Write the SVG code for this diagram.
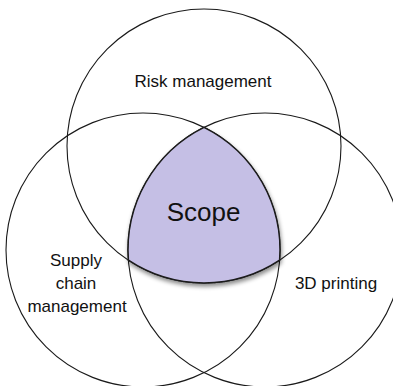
<svg xmlns="http://www.w3.org/2000/svg" width="393" height="386" viewBox="0 0 393 386">
  <style>
    .ring { fill: none; stroke: #1a1a1a; stroke-width: 1.1; }
    .lbl { font-family: "Liberation Sans", Arial, sans-serif; font-size: 17px; fill: #111; text-anchor: middle; }
    .scope { fill: #C5BFE5; stroke: #1a1a1a; stroke-width: 1.5; filter: url(#shadow); }
    .big { font-family: "Liberation Sans", Arial, sans-serif; font-size: 26px; fill: #111; text-anchor: middle; }
  </style>
  <defs>
    <filter id="shadow" x="-20%" y="-20%" width="140%" height="140%">
      <feDropShadow dx="1" dy="3" stdDeviation="2" flood-color="#000" flood-opacity="0.45"/>
    </filter>
  </defs>
  <rect width="393" height="386" fill="#fff"/>
  <g id="risk-management">
    <circle class="ring" cx="204" cy="146" r="137"/>
    <text class="lbl" x="203" y="87">Risk management</text>
  </g>
  <g id="supply-chain-management">
    <circle class="ring" cx="143" cy="250" r="137"/>
    <text class="lbl" x="76" y="266">Supply</text>
    <text class="lbl" x="76" y="289">chain</text>
    <text class="lbl" x="77" y="312">management</text>
  </g>
  <g id="3d-printing">
    <circle class="ring" cx="265" cy="250" r="137"/>
    <text class="lbl" x="336" y="289">3D printing</text>
  </g>
  <g id="scope">
    <path class="scope" d="M204,127.3 A137,137 0 0 1 279.6,260.2 A137,137 0 0 1 128.4,260.2 A137,137 0 0 1 204,127.3 Z"/>
    <text class="big" x="203.5" y="221">Scope</text>
  </g>
</svg>
